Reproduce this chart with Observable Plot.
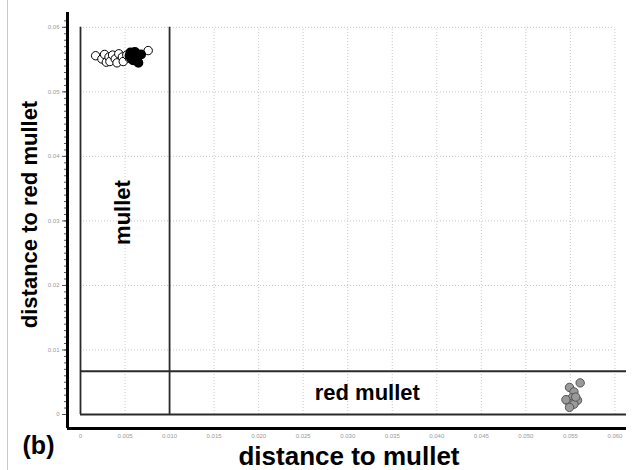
<!DOCTYPE html>
<html>
<head>
<meta charset="utf-8">
<script src="https://cdn.jsdelivr.net/npm/d3@7"></script>
<script src="https://cdn.jsdelivr.net/npm/@observablehq/plot@0.6"></script>
<style>
  html, body { margin: 0; padding: 0; background: #fff; }
  #chart { position: relative; width: 632px; height: 470px; }
  #chart::before { content: ""; position: absolute; left: 7px; top: 0; bottom: 0; border-left: 1px solid #c8c8c8; }
  #chart svg { display: block; }
</style>
</head>
<body>
<div id="chart"></div>
<script>
// Specimens assigned to mullet (open), mullet reference (black) and red mullet (grey)
const mulletOpenX = [0.0017, 0.0024, 0.0027, 0.0029, 0.0032, 0.0033, 0.0036, 0.0039, 0.0041, 0.0043, 0.0047, 0.0048, 0.0052, 0.0055, 0.0076];
const mulletOpenY = [0.0556, 0.0551, 0.0558, 0.0546, 0.0554, 0.0547, 0.0557, 0.0551, 0.0545, 0.0559, 0.0554, 0.0547, 0.0557, 0.0552, 0.0564];
const mulletRefX = [0.0055, 0.0056, 0.0057, 0.0058, 0.0059, 0.0060, 0.0061, 0.0062, 0.0064, 0.0068, 0.0065];
const mulletRefY = [0.0556, 0.0561, 0.0552, 0.0560, 0.0549, 0.0555, 0.0562, 0.0558, 0.0554, 0.0558, 0.0545];
const redMulletX = [0.0549, 0.0561, 0.0554, 0.0546, 0.0552, 0.0558, 0.0551, 0.0554, 0.0549, 0.0556, 0.0545];
const redMulletY = [0.0042, 0.0049, 0.0035, 0.0022, 0.0026, 0.0022, 0.0017, 0.0016, 0.0011, 0.0027, 0.0023];

// Assignment thresholds
const mulletLimit = 0.010;
const redMulletLimit = 0.0067;
const gridTop = 0.06;
const xEnd = 0.0613;

// Axis ticks
const xTicks = [0, 0.005, 0.010, 0.015, 0.020, 0.025, 0.030, 0.035, 0.040, 0.045, 0.050, 0.055, 0.060];
const yTicks = [0, 0.01, 0.02, 0.03, 0.04, 0.05, 0.06];
const yMinorTicks = d3.range(0, 62).map(i => i / 1000);

const xDomain = [-0.00146, xEnd];
const yDomain = [-0.00217, 0.0623];

const toPoints = (xs, ys) => xs.map((x, i) => ({x, y: ys[i]}));
const openPts = toPoints(mulletOpenX, mulletOpenY);
const refPts = toPoints(mulletRefX, mulletRefY);
const redPts = toPoints(redMulletX, redMulletY);

const fmtX = d => d === 0 ? "0" : d3.format(".3f")(d);
const fmtY = d => d === 0 ? "0" : d3.format(".2f")(d);
const font = "Liberation Sans, Arial, sans-serif";
const bold = {fontWeight: "bold", fill: "#000", textAnchor: "middle", lineAnchor: "middle"};

const chart = Plot.plot({
  width: 632,
  height: 470,
  marginLeft: 67,
  marginRight: 6,
  marginTop: 12,
  marginBottom: 42,
  style: {fontFamily: font, background: "#fff"},
  x: {domain: xDomain},
  y: {domain: yDomain},
  marks: [
    // dotted grid
    Plot.ruleX(xTicks.slice(1), {y1: 0, y2: gridTop, stroke: "#c8c8c8", strokeDasharray: "1,2"}),
    Plot.ruleY(yTicks.slice(1), {x1: 0, x2: gridTop, stroke: "#c8c8c8", strokeDasharray: "1,2"}),
    // assignment regions
    Plot.ruleX([0, mulletLimit], {y1: 0, y2: gridTop, stroke: "#2a2a2a", strokeWidth: 1.8}),
    Plot.ruleY([0, redMulletLimit], {x1: 0, x2: xEnd, stroke: "#2a2a2a", strokeWidth: 1.8}),
    // axes
    Plot.axisX({ticks: xTicks, tickFormat: fmtX, tickSize: 0, tickPadding: 5, fontSize: 6, fill: "#999", label: null}),
    Plot.axisY({ticks: yMinorTicks, tickFormat: () => "", tickSize: 3, stroke: "#555", label: null}),
    Plot.axisY({ticks: yTicks, tickFormat: fmtY, tickSize: 5, tickPadding: 3, fontSize: 6, fill: "#999", stroke: "#555", label: null}),
    Plot.ruleX([xDomain[0]], {y1: yDomain[0], y2: yDomain[1], stroke: "#000", strokeWidth: 3}),
    Plot.ruleY([yDomain[0]], {x1: xDomain[0], x2: xEnd, stroke: "#000", strokeWidth: 3}),
    // specimens
    Plot.dot(openPts, {x: "x", y: "y", r: 4.2, fill: "#fff", stroke: "#000", strokeWidth: 1}),
    Plot.dot(redPts, {x: "x", y: "y", r: 4.2, fill: "#9a9a9a", stroke: "#555", strokeWidth: 1}),
    Plot.dot(refPts, {x: "x", y: "y", r: 4.2, fill: "#000", stroke: "#000"}),
    // region labels
    Plot.text(["mullet"], {x: mulletLimit / 2 - 0.0002, y: 0.0313, rotate: -90, fontSize: 22, ...bold}),
    Plot.text(["red mullet"], {x: 0.0322, y: redMulletLimit / 2, fontSize: 22, ...bold}),
    // titles
    Plot.text(["distance to red mullet"], {frameAnchor: "left", rotate: -90, dx: -38, dy: -6, fontSize: 22, ...bold}),
    Plot.text(["distance to mullet"], {frameAnchor: "bottom", dx: 2, dy: 28, fontSize: 26, ...bold}),
    Plot.text(["(b)"], {frameAnchor: "bottom-left", dx: -29, dy: 17, fontSize: 25, ...bold})
  ]
});

document.getElementById("chart").appendChild(chart);
</script>
</body>
</html>
